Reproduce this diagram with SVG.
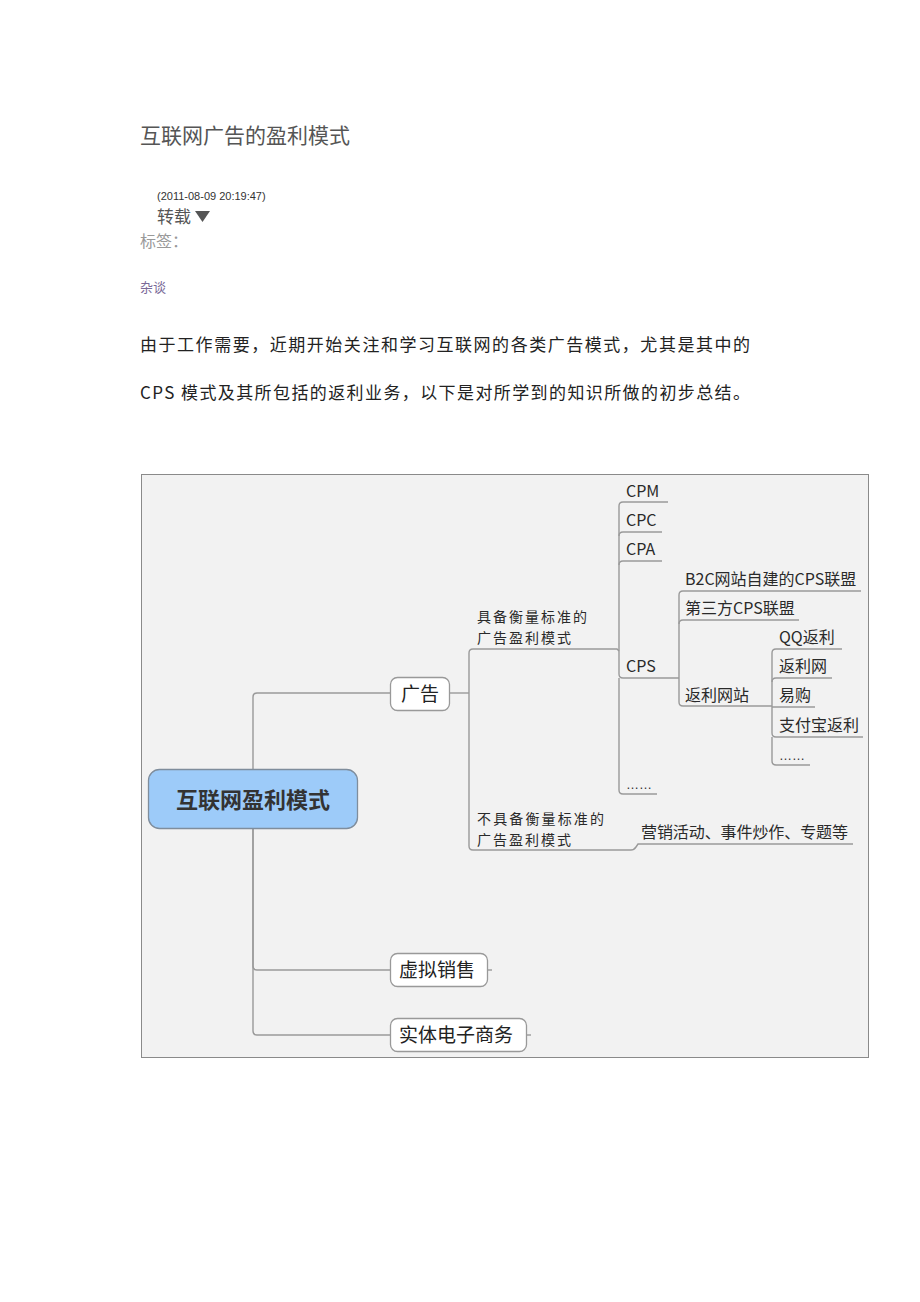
<svg xmlns="http://www.w3.org/2000/svg" width="920" height="1302" viewBox="0 0 920 1302">
<style>
.cjk{font-family:"Noto Sans CJK SC","Noto Sans",sans-serif}
.lbl{font-family:"Noto Sans CJK SC","Noto Sans",sans-serif;font-size:16px;fill:#2a2a2a}
.lbl2{font-family:"Noto Sans CJK SC","Noto Sans",sans-serif;font-size:14px;fill:#2a2a2a}
.dots{font-family:"Liberation Sans",sans-serif;font-size:13px;fill:#333}
.conn{fill:none;stroke:#9a9a9a;stroke-width:1.4}
.box{fill:#ffffff;stroke:#999;stroke-width:1.3}
.boxt{font-family:"Noto Sans CJK SC",sans-serif;font-size:19px;fill:#222}
</style>
<rect width="920" height="1302" fill="#ffffff"/>
<g id="header">
<text x="140" y="143" class="cjk" font-size="21" fill="#555">互联网广告的盈利模式</text>
<text x="157" y="200" font-family="Liberation Sans,sans-serif" font-size="11" fill="#333">(2011-08-09 20:19:47)</text>
<text x="157" y="223" class="cjk" font-size="17" fill="#555">转载</text>
<path d="M195,211 L210,211 L202.5,222 Z" fill="#555"/>
<text x="140" y="247" class="cjk" font-size="16" fill="#999">标签：</text>
<text x="140" y="292" class="cjk" font-size="13" fill="#7a6a98">杂谈</text>
<text x="140" y="351" class="cjk" font-size="17" fill="#222" textLength="610" lengthAdjust="spacing">由于工作需要，近期开始关注和学习互联网的各类广告模式，尤其是其中的</text>
<text x="140" y="399" class="cjk" font-size="17" fill="#222" textLength="610" lengthAdjust="spacing">CPS 模式及其所包括的返利业务，以下是对所学到的知识所做的初步总结。</text>
</g>
<rect id="frame" x="141.5" y="474.5" width="727" height="583" fill="#f2f2f2" stroke="#8a8a8a" stroke-width="1"/>
<g id="connectors" class="conn">
<path d="M390,693 L257,693 Q253,693 253,697 L253,769"/>
<path d="M253,829 L253,966 Q253,970 257,970 L390,970"/>
<path d="M253,829 L253,1031 Q253,1035 257,1035 L390,1035"/>
<path d="M488,970 L492,970"/>
<path d="M527,1035 L531,1035"/>
<path d="M450,693 L469,693"/>
<path d="M469,693 L469,653 Q469,649 473,649 L617,649 L619,651"/>
<path d="M469,693 L469,846 Q469,850 473,850 L631,850 Q634,850 636,847 L638,844 L853,844"/>
<path d="M619,649 L619,506 Q619,502 623,502 L668,502"/>
<path d="M619,536 Q619,532 623,532 L662,532"/>
<path d="M619,565 Q619,561 623,561 L662,561"/>
<path d="M619,649 L619,674 Q619,678 623,678 L679,678"/>
<path d="M619,678 L619,790 Q619,794 623,794 L657,794"/>
<path d="M679,678 L679,595 Q679,591 683,591 L861,591"/>
<path d="M679,624 Q679,620 683,620 L799,620"/>
<path d="M679,678 L679,702 Q679,706 683,706 L772,706"/>
<path d="M772,706 L772,653 Q772,649 776,649 L842,649"/>
<path d="M772,682 Q772,678 776,678 L832,678"/>
<path d="M772,707 L815,707"/>
<path d="M772,706 L772,733 Q772,737 776,737 L863,737"/>
<path d="M772,737 L772,761 Q772,765 776,765 L810,765"/>
</g>
<g id="root">
<rect x="148.5" y="769.5" width="209" height="59" rx="11" fill="#9dcbf9" stroke="#7f8d9c" stroke-width="1.3"/>
<text x="253" y="808" text-anchor="middle" class="cjk" font-size="22" font-weight="bold" fill="#333">互联网盈利模式</text>
</g>
<g id="n-guanggao">
<rect x="390.5" y="677.5" width="59" height="33" rx="7" class="box"/>
<text x="420" y="701" text-anchor="middle" class="boxt">广告</text>
</g>
<g id="n-xuni">
<rect x="390.5" y="953.5" width="97" height="33" rx="7" class="box"/>
<text x="399" y="977" class="boxt">虚拟销售</text>
</g>
<g id="n-shiti">
<rect x="390.5" y="1018.5" width="136" height="33" rx="7" class="box"/>
<text x="399" y="1042" class="boxt">实体电子商务</text>
</g>
<g id="n-juBei">
<text x="477" y="622" class="lbl2" textLength="110" lengthAdjust="spacing">具备衡量标准的</text>
<text x="477" y="643" class="lbl2" textLength="94" lengthAdjust="spacing">广告盈利模式</text>
</g>
<g id="n-bujuBei">
<text x="477" y="824" class="lbl2" textLength="127" lengthAdjust="spacing">不具备衡量标准的</text>
<text x="477" y="845" class="lbl2" textLength="94" lengthAdjust="spacing">广告盈利模式</text>
</g>
<g id="n-yingxiao"><text x="641" y="838" class="lbl" textLength="207" lengthAdjust="spacing">营销活动、事件炒作、专题等</text></g>
<g id="n-cpm"><text x="626" y="497" class="lbl">CPM</text></g>
<g id="n-cpc"><text x="626" y="526" class="lbl">CPC</text></g>
<g id="n-cpa"><text x="626" y="555" class="lbl">CPA</text></g>
<g id="n-cps"><text x="626" y="672" class="lbl">CPS</text></g>
<g id="n-more1"><text x="626" y="789" class="dots">……</text></g>
<g id="n-b2c"><text x="685" y="585" class="lbl">B2C网站自建的CPS联盟</text></g>
<g id="n-disanfang"><text x="685" y="614" class="lbl">第三方CPS联盟</text></g>
<g id="n-fanliwangzhan"><text x="685" y="701" class="lbl">返利网站</text></g>
<g id="n-qq"><text x="779" y="643" class="lbl">QQ返利</text></g>
<g id="n-fanliwang"><text x="779" y="672" class="lbl">返利网</text></g>
<g id="n-yigou"><text x="779" y="701" class="lbl">易购</text></g>
<g id="n-zhifubao"><text x="779" y="731" class="lbl">支付宝返利</text></g>
<g id="n-more2"><text x="779" y="760" class="dots">……</text></g>
</svg>
